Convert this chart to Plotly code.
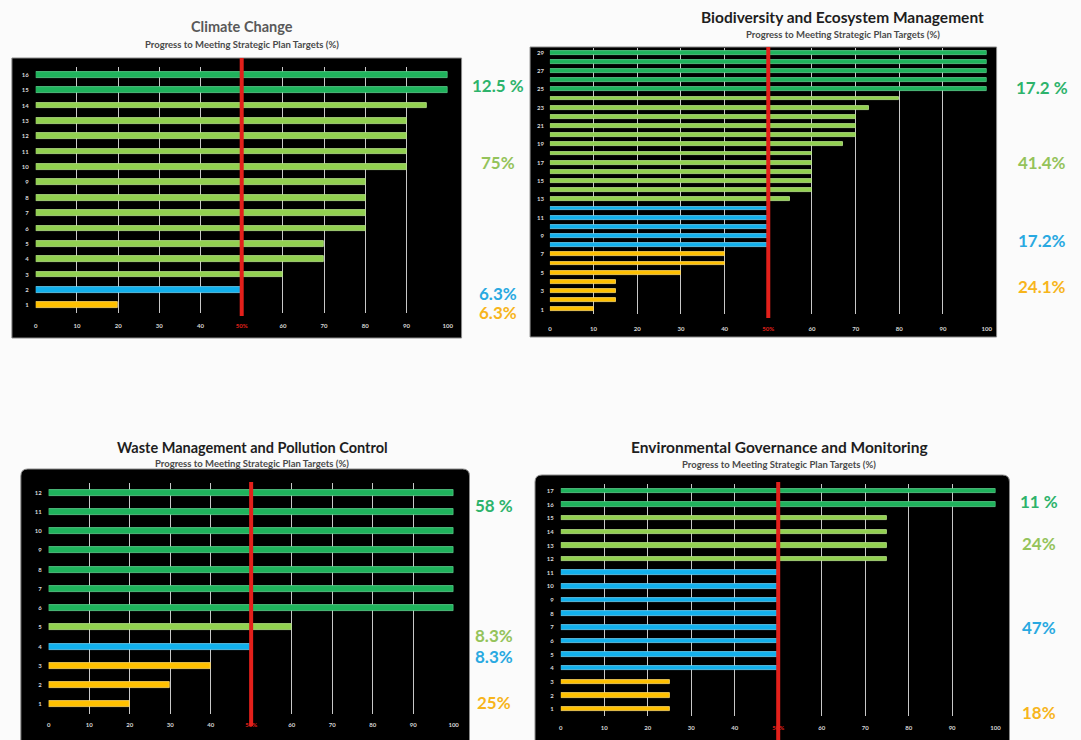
import plotly.graph_objects as go

W, H = 1081, 740

# ---- data -------------------------------------------------------------
climate_values = [20, 50, 60, 70, 70, 80, 80, 80, 80, 90, 90, 90, 90, 95, 100, 100]
biodiv_values = [10, 15, 15, 15, 30, 40, 40,
                 50, 50, 50, 50, 50,
                 55, 60, 60, 60, 60, 60, 67, 70, 70, 70, 73, 80,
                 100, 100, 100, 100, 100]
waste_values = [20, 30, 40, 50, 60, 100, 100, 100, 100, 100, 100, 100]
govern_values = [25, 25, 25, 50, 50, 50, 50, 50, 50, 50, 50, 75, 75, 75, 75, 100, 100]

climate_shares = ["12.5 %", "75%", "6.3%", "6.3%"]
biodiv_shares = ["17.2 %", "41.4%", "17.2%", "24.1%"]
waste_shares = ["58 %", "8.3%", "8.3%", "25%"]
govern_shares = ["11 %", "24%", "47%", "18%"]

x_ticks = [0, 10, 20, 30, 40, 50, 60, 70, 80, 90, 100]
x_tick_labels = ["0", "10", "20", "30", "40", "50%", "60", "70", "80", "90", "100"]

panel_titles = ["Climate Change",
                "Biodiversity and Ecosystem Management",
                "Waste Management and Pollution Control",
                "Environmental Governance and Monitoring"]
subtitle = "Progress to Meeting Strategic Plan Targets (%)"

# ---- styling ------------------------------------------------------------
DARK_GREEN = "#1fb35c"
LIGHT_GREEN = "#92d050"
BLUE = "#12b0ec"
YELLOW = "#ffc000"
RED = "#e3201b"

OUTLINE = {DARK_GREEN: "#5fd38f", LIGHT_GREEN: "#b9e68a", BLUE: "#6fd2f6", YELLOW: "#ffd966"}
TEXT_COL = ["#2db36b", "#94c35a", "#29a9e1", "#f7b51c"]
TEXT_COL_WASTE = ["#2db36b", "#94c35a", "#29a9e1", "#f7b51c"]


def status_colour(v):
    if v >= 100:
        return DARK_GREEN
    if v > 50:
        return LIGHT_GREEN
    if v == 50:
        return BLUE
    return YELLOW


def px_x(x):
    return x / W


def px_y(y):
    return 1 - y / H


panels = [
    dict(values=climate_values, shares=climate_shares, title=panel_titles[0],
         title_col="#595959", title_size=14.5, title_xy=(242, 27), sub_y=44,
         box=(10, 58, 463, 338), rounded=False,
         dom_x=(34, 449), dom_y=(67, 313), red=(58, 316),
         width=0.37, ytick_step=1, xstand=8, ystand=6,
         ann_x=500, ann_y=[85, 163, 293, 312]),
    dict(values=biodiv_values, shares=biodiv_shares, title=panel_titles[1],
         title_col="#1e1e1e", title_size=15.5, title_xy=(847, 17), sub_y=35,
         box=(532, 47, 1002, 337), rounded=False,
         dom_x=(552, 992), dom_y=(48, 314), red=(47, 318),
         width=0.42, ytick_step=2, xstand=10, ystand=5,
         ann_x=1048, ann_y=[87, 163, 240, 287]),
    dict(values=waste_values, shares=waste_shares, title=panel_titles[2],
         title_col="#1e1e1e", title_size=14.5, title_xy=(252, 447), sub_y=463,
         box=(19, 469, 471, 752), rounded=True,
         dom_x=(47, 455), dom_y=(483, 714), red=(482, 726),
         width=0.31, ytick_step=1, xstand=6, ystand=6,
         ann_x=496, ann_y=[505, 635, 656, 702]),
    dict(values=govern_values, shares=govern_shares, title=panel_titles[3],
         title_col="#1e1e1e", title_size=15.5, title_xy=(783, 447), sub_y=464,
         box=(537, 475, 1015, 752), rounded=True,
         dom_x=(563, 1001), dom_y=(484, 716), red=(482, 745),
         width=0.33, ytick_step=1, xstand=7, ystand=6,
         ann_x=1045, ann_y=[501, 543, 627, 712]),
]

fig = go.Figure()
shapes = []
annotations = []
FONT = "Lato, 'Open Sans', sans-serif"

for i, p in enumerate(panels, start=1):
    xa = "x" if i == 1 else f"x{i}"
    ya = "y" if i == 1 else f"y{i}"
    vals = p["values"]
    cats = list(range(1, len(vals) + 1))
    cols = [status_colour(v) for v in vals]

    fig.add_trace(go.Bar(
        x=vals, y=cats, orientation="h", xaxis=xa, yaxis=ya,
        width=p["width"],
        marker=dict(color=cols, line=dict(color=[OUTLINE[c] for c in cols], width=0.8)),
        showlegend=False, hoverinfo="x+y",
    ))

    # black panel behind the plot area
    x0, y0, x1, y1 = p["box"]
    if p["rounded"]:
        r = 7
        path = (f"M {px_x(x0 + r)} {px_y(y0)} L {px_x(x1 - r)} {px_y(y0)} "
                f"Q {px_x(x1)} {px_y(y0)} {px_x(x1)} {px_y(y0 + r)} "
                f"L {px_x(x1)} {px_y(y1)} L {px_x(x0)} {px_y(y1)} "
                f"L {px_x(x0)} {px_y(y0 + r)} "
                f"Q {px_x(x0)} {px_y(y0)} {px_x(x0 + r)} {px_y(y0)} Z")
        shapes.append(dict(type="path", xref="paper", yref="paper", path=path,
                           fillcolor="black", line=dict(color="#8a8a8a", width=1),
                           layer="below"))
    else:
        shapes.append(dict(type="rect", xref="paper", yref="paper",
                           x0=px_x(x0), x1=px_x(x1), y0=px_y(y1), y1=px_y(y0),
                           fillcolor="black", line=dict(color="#8a8a8a", width=1),
                           layer="below"))

    # 50 % threshold line
    shapes.append(dict(type="line", xref=xa, yref="paper", x0=50, x1=50,
                       y0=px_y(p["red"][1]), y1=px_y(p["red"][0]),
                       line=dict(color=RED, width=4), layer="above"))

    dx = (px_x(p["dom_x"][0]), px_x(p["dom_x"][1]))
    dy = (px_y(p["dom_y"][1]), px_y(p["dom_y"][0]))
    tick_text = [f"<span style='color:{RED}'>{t}</span>" if t.endswith("%") else t
                 for t in x_tick_labels]
    fig.layout[("xaxis" if i == 1 else f"xaxis{i}")] = dict(
        domain=dx, anchor=ya, range=[0, 100], fixedrange=True,
        tickvals=x_ticks, ticktext=tick_text, ticks="", showline=False,
        showgrid=True, gridcolor="#c8c8c8", gridwidth=1.3, zeroline=False,
        ticklabelstandoff=p["xstand"],
        tickfont=dict(family=FONT, size=6, color="#d8d8d8", weight="bold"),
    )
    fig.layout[("yaxis" if i == 1 else f"yaxis{i}")] = dict(
        domain=dy, anchor=xa, range=[0.5, len(vals) + 0.5], fixedrange=True,
        tickvals=cats[::p["ytick_step"]], ticks="", showgrid=False,
        zeroline=False, showline=False, ticklabelstandoff=p["ystand"],
        tickfont=dict(family=FONT, size=6, color="#d8d8d8", weight="bold"),
    )

    tx, ty = p["title_xy"]
    annotations.append(dict(
        text=p["title"], x=px_x(tx), y=px_y(ty), xref="paper", yref="paper",
        showarrow=False, xanchor="center", yanchor="middle",
        font=dict(family=FONT, size=p["title_size"], color=p["title_col"], weight="bold")))
    annotations.append(dict(
        text=subtitle, x=px_x(tx), y=px_y(p["sub_y"]), xref="paper", yref="paper",
        showarrow=False, xanchor="center", yanchor="middle",
        font=dict(family=FONT, size=9.5, color="#4a4a4a", weight="bold")))

    for share, yy, col in zip(p["shares"], p["ann_y"], TEXT_COL):
        annotations.append(dict(
            text=share, x=px_x(p["ann_x"]), y=px_y(yy), xref="paper", yref="paper",
            showarrow=False, xanchor="center", yanchor="middle",
            font=dict(family=FONT, size=17, color=col, weight="bold")))

fig.update_layout(
    width=W, height=H, margin=dict(l=0, r=0, t=0, b=0),
    paper_bgcolor="#fbfbfb", plot_bgcolor="black",
    shapes=shapes, annotations=annotations, bargap=0,
)

fig.write_html("out.html")
